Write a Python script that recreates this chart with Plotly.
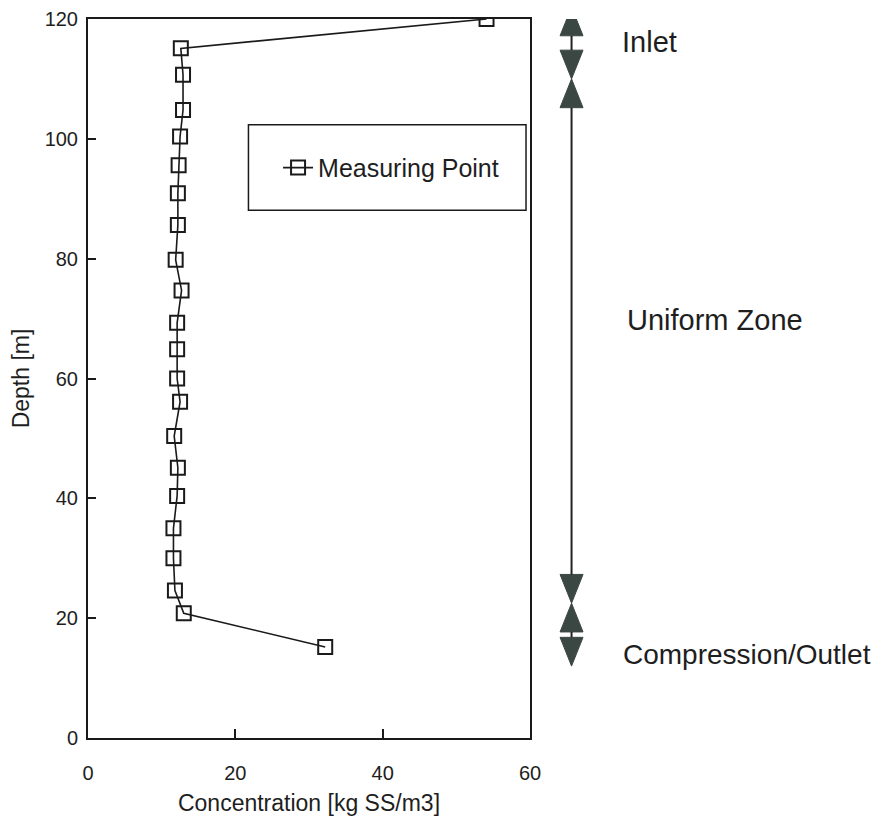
import plotly.graph_objects as go

# ---- data ----
concentration = [54.1, 12.6, 12.9, 12.9, 12.5, 12.3, 12.2, 12.2, 11.9, 12.7, 12.1,
                 12.1, 12.1, 12.5, 11.7, 12.2, 12.1, 11.6, 11.6, 11.8, 13.0, 32.2]
depth = [120.0, 115.1, 110.7, 104.8, 100.4, 95.6, 90.9, 85.6, 79.8, 74.7, 69.3,
         64.9, 60.0, 56.1, 50.4, 45.1, 40.4, 35.0, 30.0, 24.6, 20.8, 15.2]
series_name = "Measuring Point"

zone_names = ["Inlet", "Uniform Zone", "Compression/Outlet"]
zone_top = [122.0, 110.0, 22.5]
zone_bottom = [110.0, 22.5, 12.0]
zone_label_depth = [116.2, 69.8, 13.9]

x_ticks = [0, 20, 40, 60]
y_ticks = [0, 20, 40, 60, 80, 100, 120]

FONT = "Liberation Sans, Arial, sans-serif"
TXT = "#1e1e1e"
ARROW = "#3b4743"

fig = go.Figure()
fig.add_trace(go.Scatter(
    x=concentration, y=depth, mode="lines+markers", name=series_name,
    line=dict(color="#1a1a1a", width=1.6),
    marker=dict(symbol="square-open", size=14, color="#1a1a1a",
                line=dict(width=2, color="#1a1a1a")),
))

# zone arrows (x in paper coords beyond the plot, y in depth units)
ax_x = 1.094
hw = 0.026
th = 4.8
shapes = []
for top, bot in zip(zone_top, zone_bottom):
    shapes.append(dict(type="path", xref="paper", yref="y",
                       path=f"M {ax_x-hw},{top-th} L {ax_x+hw},{top-th} L {ax_x},{top} Z",
                       fillcolor=ARROW, line=dict(color=ARROW, width=1)))
    shapes.append(dict(type="path", xref="paper", yref="y",
                       path=f"M {ax_x-hw},{bot+th} L {ax_x+hw},{bot+th} L {ax_x},{bot} Z",
                       fillcolor=ARROW, line=dict(color=ARROW, width=1)))
    shapes.append(dict(type="line", xref="paper", yref="y",
                       x0=ax_x, x1=ax_x, y0=top - th, y1=bot + th,
                       line=dict(color="#222222", width=2)))

# legend box
shapes.append(dict(type="rect", xref="paper", yref="paper",
                   x0=0.363, x1=0.991, y0=0.734, y1=0.853,
                   line=dict(color="#1a1a1a", width=1.5), fillcolor="rgba(0,0,0,0)"))

annotations = []
label_x = [1.203, 1.214, 1.207]
label_size = [29, 29, 28]
for name, yd, lx, fs in zip(zone_names, zone_label_depth, label_x, label_size):
    annotations.append(dict(text=name, xref="paper", yref="y", x=lx, y=yd,
                            xanchor="left", yanchor="middle", showarrow=False,
                            font=dict(family=FONT, size=fs, color=TXT)))

# the page body adds an 8px offset; the figure is sized so the plot lands
# where the reference has it
fig.update_layout(
    width=879, height=815,
    margin=dict(l=80, r=357, t=11, b=85, autoexpand=False),
    paper_bgcolor="white", plot_bgcolor="white",
    font=dict(family=FONT, color=TXT),
    shapes=shapes, annotations=annotations,
    showlegend=True,
    legend=dict(x=0.43, y=0.793, xanchor="left", yanchor="middle",
                bgcolor="rgba(0,0,0,0)", borderwidth=0,
                font=dict(family=FONT, size=25, color=TXT), itemwidth=30),
)
fig.update_xaxes(
    range=[0, 60], tickvals=x_ticks, ticktext=[str(v) for v in x_ticks],
    showline=True, mirror=True, linecolor="#1a1a1a", linewidth=2,
    ticks="inside", ticklen=9, tickwidth=1.5, tickcolor="#1a1a1a",
    showgrid=False, zeroline=False, ticklabelstandoff=16, automargin=False,
    tickfont=dict(family=FONT, size=20, color=TXT),
    title=dict(text="Concentration [kg SS/m3]", standoff=12,
               font=dict(family=FONT, size=23, color=TXT)),
)
fig.update_yaxes(
    range=[0, 120], tickvals=y_ticks, ticktext=[str(v) for v in y_ticks],
    showline=True, mirror=True, linecolor="#1a1a1a", linewidth=2,
    ticks="inside", ticklen=8, tickwidth=1.5, tickcolor="#1a1a1a",
    showgrid=False, zeroline=False, ticklabelstandoff=4, automargin=False,
    tickfont=dict(family=FONT, size=20, color=TXT),
    title=dict(text="Depth [m]", standoff=14,
               font=dict(family=FONT, size=23, color=TXT)),
)

fig.write_html("out.html")
